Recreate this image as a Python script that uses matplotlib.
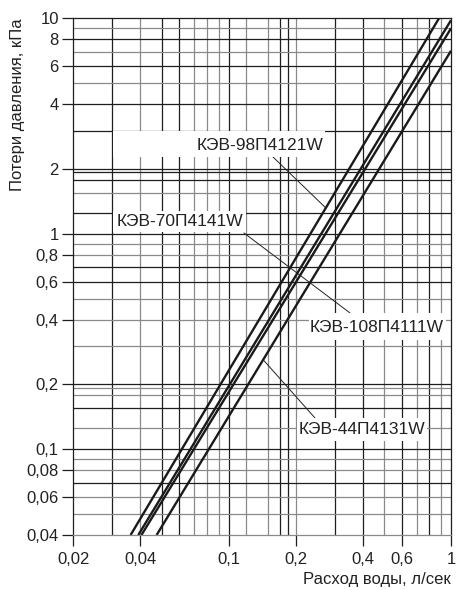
import matplotlib
matplotlib.use("Agg")
import matplotlib.pyplot as plt
from matplotlib.patches import Rectangle
import numpy as np

plt.rcParams['font.family'] = ['Liberation Sans', 'DejaVu Sans']

# Pressure loss lines, read at both ends (flow l/s, pressure kPa)
models = ["КЭВ-98П4121W", "КЭВ-70П4141W", "КЭВ-108П4111W", "КЭВ-44П4131W"]
flow_ends = [[0.0362, 0.883], [0.0392, 1.0], [0.0405, 1.0], [0.0474, 1.0]]
dp_ends = [[0.04, 10.0], [0.04, 9.8], [0.04, 8.98], [0.04, 7.07]]

# grid lines (1 = dark line, 0 = grey line)
x_grid = [0.03, 0.04, 0.05, 0.06, 0.07, 0.08, 0.09, 0.1, 0.12, 0.15, 0.17,
          0.185, 0.2, 0.3, 0.4, 0.5, 0.6, 0.7, 0.8, 0.9]
x_dark = [1, 0, 1, 1, 0, 0, 0, 1, 0, 0, 1, 1, 0, 1, 1, 0, 1, 0, 1, 0]
y_grid = [0.05, 0.06, 0.07, 0.08, 0.09, 0.1, 0.125, 0.156, 0.178, 0.193, 0.2,
          0.3, 0.4, 0.5, 0.6, 0.7, 0.8, 0.9, 1, 1.25, 1.55, 1.78, 1.93, 2,
          3, 4, 5, 6, 7, 8, 9]
y_dark = [0, 0, 1, 0, 0, 1, 0, 1, 0, 0, 1, 0, 0, 0, 1, 1, 0, 0, 1, 1, 0, 1,
          1, 1, 1, 1, 0, 1, 0, 1, 0]

x_ticks = [0.02, 0.04, 0.1, 0.2, 0.4, 0.6, 1]
x_labels = ["0,02", "0,04", "0,1", "0,2", "0,4", "0,6", "1"]
y_ticks = [0.04, 0.06, 0.08, 0.1, 0.2, 0.4, 0.6, 0.8, 1, 2, 4, 6, 8, 10]
y_labels = ["0,04", "0,06", "0,08", "0,1", "0,2", "0,4", "0,6", "0,8",
            "1", "2", "4", "6", "8", "10"]

DARK = "#1e1e1e"
GREY = "#8a8a8a"

fig = plt.figure(figsize=(4.57, 5.90), dpi=100)
ax = fig.add_axes([0.1604, 0.0932, 0.8265, 0.8758])
ax.set_xscale("log")
ax.set_yscale("log")
ax.set_xlim(0.02, 1)
ax.set_ylim(0.04, 10)

for v, d in zip(x_grid, x_dark):
    ax.axvline(v, color=DARK if d else GREY, lw=0.9, zorder=1)
for v, d in zip(y_grid, y_dark):
    ax.axhline(v, color=DARK if d else GREY, lw=0.9, zorder=1)

for fl, dp in zip(flow_ends, dp_ends):
    ax.plot(fl, dp, color="#1a1a1a", lw=1.7, zorder=2, solid_capstyle="butt")

ax.xaxis.set_major_locator(matplotlib.ticker.FixedLocator(x_ticks))
ax.xaxis.set_major_formatter(matplotlib.ticker.FixedFormatter(x_labels))
ax.yaxis.set_major_locator(matplotlib.ticker.FixedLocator(y_ticks))
ax.yaxis.set_major_formatter(matplotlib.ticker.FixedFormatter(y_labels))
ax.xaxis.set_minor_locator(matplotlib.ticker.NullLocator())
ax.yaxis.set_minor_locator(matplotlib.ticker.NullLocator())
ax.tick_params(axis="both", direction="out", length=7.9, width=0.9,
               color=DARK, labelsize=12, labelcolor="#222222")
ax.tick_params(axis="x", pad=4)
ax.tick_params(axis="y", pad=2.5)
for s in ax.spines.values():
    s.set_color(DARK)
    s.set_linewidth(0.9)
ax.spines["bottom"].set_color(GREY)

ax.set_xlabel("Расход воды, л/сек", loc="right", fontsize=12,
              color="#222222", labelpad=4)
ax.set_ylabel("Потери давления, кПа", loc="top", fontsize=12,
              color="#222222", labelpad=1)


def on_line(i, f):
    lf = np.log10(flow_ends[i])
    lp = np.log10(dp_ends[i])
    return f, 10 ** np.interp(np.log10(f), lf, lp)


# label boxes in axes fraction: (x0, y0, x1, y1), text centre
boxes = [(0.1051, 0.7316, 0.6664, 0.7819), (0.1051, 0.5864, 0.4572, 0.6271),
         (0.6240, 0.3774, 0.9868, 0.4297), (0.5923, 0.1819, 0.9365, 0.2264)]
centres = [(0.4943, 0.7538), (0.2825, 0.6067), (0.8041, 0.4016), (0.7644, 0.2042)]

for (x0, y0, x1, y1), (cx, cy), name in zip(boxes, centres, models):
    ax.add_patch(Rectangle((x0, y0), x1 - x0, y1 - y0, transform=ax.transAxes,
                           facecolor="white", edgecolor="none", zorder=4))
    ax.text(cx, cy, name, transform=ax.transAxes, ha="center", va="center",
            fontsize=12.5, color="#222222", zorder=5)

leader = dict(arrowstyle="-", color="#222222", lw=0.7, shrinkA=0, shrinkB=0)

# КЭВ-98 leader to its line
ax.annotate("", xy=on_line(0, 0.2734), xycoords="data",
            xytext=(0.5287, 0.7316), textcoords="axes fraction",
            arrowprops=leader, zorder=3)
# КЭВ-70 and КЭВ-108 share one straight leader
p70 = (0.4519, 0.5845)
p108 = (0.7326, 0.4297)
mid = ((p70[0] + p108[0]) / 2, (p70[1] + p108[1]) / 2)
ax.annotate("", xy=mid, xycoords="axes fraction", xytext=p70,
            textcoords="axes fraction", arrowprops=leader, zorder=3)
ax.annotate("", xy=mid, xycoords="axes fraction", xytext=p108,
            textcoords="axes fraction", arrowprops=leader, zorder=3)
# КЭВ-44 leader
ax.annotate("", xy=on_line(3, 0.1429), xycoords="data",
            xytext=(0.640, 0.2264), textcoords="axes fraction",
            arrowprops=leader, zorder=3)

plt.savefig("out.png", dpi=100)
